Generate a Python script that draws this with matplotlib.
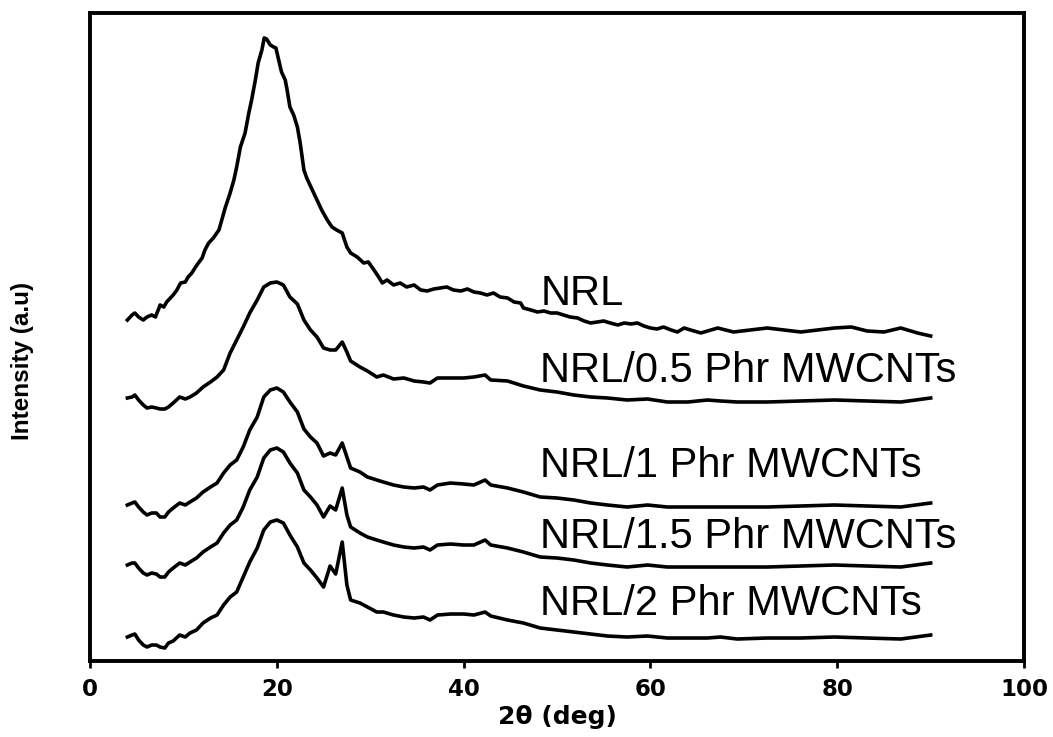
import matplotlib
matplotlib.use('Agg')
import matplotlib.pyplot as plt

# XRD patterns (2-theta in deg, intensity in arbitrary units, stacked)
NRL_X = [4.0, 4.5, 4.8, 5.2, 5.7, 6.1, 6.6, 7.0, 7.3, 7.5, 7.9, 8.2, 8.6, 8.9, 9.3, 9.7, 10.2, 10.5,
         10.9, 11.3, 11.6, 12.0, 12.3, 12.7, 13.2, 13.8, 14.1, 14.5, 15.0, 15.4, 15.7, 16.1, 16.6,
         17.0, 17.3, 17.7, 18.0, 18.4, 18.65, 18.9, 19.3, 19.65, 19.9, 20.2, 20.5, 20.9, 21.1, 21.4,
         21.8, 22.2, 22.5, 22.9, 23.2, 23.8, 24.3, 24.8, 25.4, 25.9, 26.4, 27.0, 27.5, 27.9,
         28.6, 29.3, 29.8, 30.4, 30.9, 31.3, 31.8, 32.5, 33.2, 33.9, 34.7, 35.4, 36.1, 36.8, 37.5,
         38.2, 38.9, 39.7, 40.4, 41.1, 41.8, 42.5, 43.2, 43.9, 44.7, 45.4, 46.1, 46.4, 47.2, 47.9,
         48.6, 49.3, 50.0, 50.7, 51.4, 52.2, 52.9, 53.6, 54.3, 55.0, 55.7, 56.5, 57.2, 57.9, 58.6,
         59.3, 60.0, 60.7, 61.4, 62.2, 62.9, 63.6, 64.3, 65.4, 67.2, 68.9, 70.7, 72.5, 74.3, 76.1,
         77.9, 79.7, 81.5, 83.2, 85.0, 86.8, 88.6, 90.0]
NRL_Y = [341, 346, 348, 344, 341, 344, 346, 344, 351, 356, 354, 359, 363, 366, 371, 378, 379, 384,
         388, 394, 398, 403, 411, 418, 423, 431, 441, 454, 468, 481, 494, 514, 528,
         548, 561, 581, 598, 611, 623, 622, 616, 614, 613, 601, 589, 581, 571, 554,
         546, 534, 518, 491, 483, 471, 461, 451, 441, 434, 431, 428, 414, 408,
         404, 398, 399, 391, 384, 378, 381, 376, 378, 374, 376, 371, 370, 372, 373,
         374, 371, 370, 372, 369, 368, 366, 368, 364, 363, 359, 358, 353, 351, 349,
         350, 348, 348, 346, 344, 343, 340, 338, 339, 340, 338, 336, 338, 337, 338,
         335, 333, 332, 334, 331, 329, 333, 331, 328, 333, 329, 331, 333, 331, 329,
         331, 333, 334, 330, 329, 333, 328, 325]

LOW_X = [4.0, 4.5, 4.8, 5.2, 5.7, 6.1, 6.6, 7.1, 7.5, 8.0, 8.4, 8.9, 9.6, 10.2, 10.7, 11.4, 12.1,
         12.9, 13.6, 14.3, 15.0, 15.7, 16.4, 17.1, 17.9, 18.6, 19.3, 20.0, 20.7, 21.4, 22.2, 22.9,
         23.6, 24.3, 25.0, 25.7, 26.3, 27.0, 27.5, 27.9, 28.9, 29.7, 30.7, 31.4, 32.5, 33.6, 34.7,
         35.7, 36.4, 37.2, 38.6, 40.0, 41.1, 42.3, 42.9, 44.7, 46.4, 48.2, 50.0, 51.8, 53.6, 55.4,
         57.5, 59.7, 61.8, 64.0, 66.1, 67.5, 69.3, 72.5, 76.1, 79.7, 83.2, 86.8, 90.0]
NRL05_Y = [263, 264, 266, 261, 256, 253, 254, 253, 252, 252, 254, 258, 264, 262, 264, 268, 274,
           279, 284, 291, 308, 321, 334, 348, 361, 374, 378, 379, 376, 364, 357, 341,
           331, 324, 313, 311, 311, 319, 309, 300, 294, 290, 284, 286, 282, 283, 280,
           279, 278, 283, 283, 283, 284, 286, 281, 280, 275, 271, 269, 266, 264, 263,
           261, 262, 259, 259, 261, 260, 259, 259, 260, 261, 260, 259, 263]
NRL1_Y = [156, 158, 159, 154, 149, 146, 148, 148, 144, 144, 149, 153, 158, 156, 159, 163, 169,
          174, 178, 188, 196, 201, 214, 231, 244, 264, 271, 273, 269, 259, 249, 232,
          224, 218, 205, 208, 206, 218, 204, 193, 189, 184, 181, 179, 176, 174, 173,
          174, 171, 176, 178, 177, 176, 181, 176, 173, 169, 164, 163, 161, 158, 156,
          154, 156, 154, 154, 154, 154, 154, 154, 155, 156, 155, 154, 158]
NRL15_Y = [96, 98, 98, 93, 88, 86, 88, 87, 84, 84, 89, 93, 98, 96, 99, 103, 109,
           114, 118, 128, 136, 141, 154, 171, 184, 203, 211, 213, 209, 198, 188, 171,
           164, 156, 144, 155, 151, 173, 146, 134, 128, 124, 121, 119, 116, 114, 113,
           114, 111, 116, 117, 116, 116, 121, 116, 113, 109, 104, 103, 101, 98, 96,
           94, 96, 94, 94, 94, 94, 94, 94, 95, 96, 95, 94, 98]
NRL2_Y = [24, 26, 27, 21, 16, 14, 16, 16, 14, 13, 18, 20, 26, 24, 28, 31, 38,
          43, 46, 56, 64, 69, 84, 99, 113, 131, 139, 141, 138, 126, 114, 98,
          91, 83, 74, 95, 87, 119, 76, 61, 58, 54, 49, 49, 46, 44, 43,
          44, 41, 46, 47, 47, 46, 49, 45, 41, 38, 33, 31, 29, 27, 25,
          24, 25, 23, 23, 23, 24, 22, 23, 23, 24, 23, 22, 26]

LABELS = ['NRL', 'NRL/0.5 Phr MWCNTs', 'NRL/1 Phr MWCNTs', 'NRL/1.5 Phr MWCNTs', 'NRL/2 Phr MWCNTs']
LABEL_X = 48.2
LABEL_Y = [356, 279, 184, 113, 46]

series = [(NRL_X, NRL_Y), (LOW_X, NRL05_Y), (LOW_X, NRL1_Y), (LOW_X, NRL15_Y), (LOW_X, NRL2_Y)]

fig = plt.figure(figsize=(10.53, 7.37), dpi=100)
ax = fig.add_axes([0.0855, 0.1031, 0.8870, 0.8793])

for xs, ys in series:
    ax.plot(xs, ys, color='black', lw=2.6, solid_joinstyle='round')

for lab, ly in zip(LABELS, LABEL_Y):
    ax.text(LABEL_X, ly, lab, fontsize=30, family='Liberation Sans', va='baseline', ha='left')

ax.set_xlim(0, 100)
ax.set_ylim(0, 648)
ax.set_xticks(range(0, 101, 20))
ax.set_yticks([])
for s in ax.spines.values():
    s.set_linewidth(2.8)
ax.tick_params(axis='x', direction='out', length=5, width=2, pad=7)
for t in ax.get_xticklabels():
    t.set_fontfamily('DejaVu Sans')
    t.set_fontweight('bold')
    t.set_fontsize(16.5)
ax.set_xlabel('2θ (deg)', fontsize=18, fontweight='bold', family='DejaVu Sans', labelpad=3)
ax.set_ylabel('Intensity (a.u)', fontsize=17.5, fontweight='bold', family='Liberation Sans')
ax.yaxis.set_label_coords(-0.06, 0.463)

fig.savefig('out.png', dpi=100)
